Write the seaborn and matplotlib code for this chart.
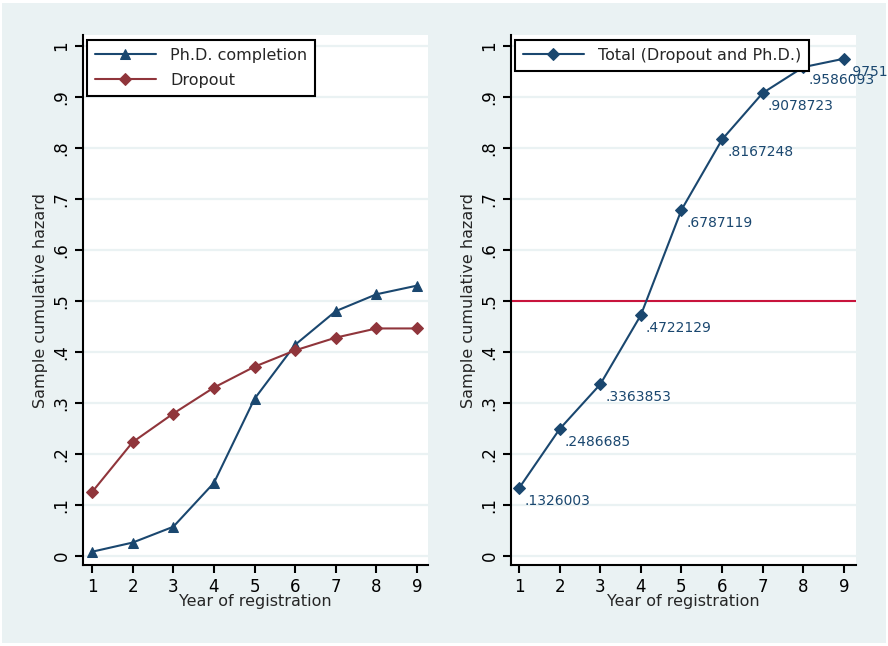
import matplotlib
matplotlib.use("Agg")
import matplotlib.pyplot as plt
import seaborn as sns
import pandas as pd
from matplotlib.patches import Rectangle

# ---- data ----
years = [1, 2, 3, 4, 5, 6, 7, 8, 9]
phd_completion = [0.008, 0.026, 0.057, 0.143, 0.308, 0.414, 0.480, 0.513, 0.530]
dropout = [0.125, 0.223, 0.279, 0.330, 0.371, 0.403, 0.428, 0.446, 0.446]
total = [0.1326003, 0.2486685, 0.3363853, 0.4722129, 0.6787119,
         0.8167248, 0.9078723, 0.9586093, 0.9751]
total_labels = [".1326003", ".2486685", ".3363853", ".4722129", ".6787119",
                ".8167248", ".9078723", ".9586093", ".9751"]
y_ticks = [0, 0.1, 0.2, 0.3, 0.4, 0.5, 0.6, 0.7, 0.8, 0.9, 1.0]
y_tick_labels = ["0", ".1", ".2", ".3", ".4", ".5", ".6", ".7", ".8", ".9", "1"]
ref_line = 0.5

NAVY = "#1a476f"
MAROON = "#90353b"
RED = "#c8143c"
BG = "#eaf2f3"

sns.set_style("white")
plt.rcParams["font.family"] = ["DejaVu Sans"]

W, H = 888, 646
fig = plt.figure(figsize=(W / 100, H / 100), dpi=100, facecolor="white")
fig.patches.append(Rectangle((2 / W, 3 / H), 884 / W, 640 / H, transform=fig.transFigure,
                             facecolor=BG, edgecolor="none", zorder=-10))

axL = fig.add_axes([83 / W, (646 - 565) / H, 345 / W, 530 / H])
axR = fig.add_axes([511 / W, (646 - 565) / H, 345 / W, 530 / H])

df = pd.DataFrame({"year": years, "phd": phd_completion, "drop": dropout, "total": total})


def style(ax, xlim):
    ax.set_facecolor("white")
    ax.set_xlim(*xlim)
    ax.set_ylim(-0.018, 1.0216)
    ax.set_yticks(y_ticks)
    ax.set_yticklabels(y_tick_labels, rotation=90, va="center")
    ax.set_xticks(years)
    ax.set_xticklabels([str(y) for y in years])
    for y in y_ticks:
        ax.axhline(y, color=BG, lw=1.6, zorder=0)
    for s in ["top", "right"]:
        ax.spines[s].set_visible(False)
    for s in ["left", "bottom"]:
        ax.spines[s].set_color("black")
        ax.spines[s].set_linewidth(1.5)
    ax.tick_params(axis="both", direction="out", length=6, width=1.5, color="black",
                   labelsize=12, labelcolor="black", pad=3, left=True, bottom=True)
    ax.set_xlabel("Year of registration", fontsize=11.5, labelpad=-1)
    ax.set_ylabel("Sample cumulative hazard", fontsize=11.5, labelpad=3)


def style_legend(leg):
    fr = leg.get_frame()
    fr.set_edgecolor("black")
    fr.set_linewidth(1.5)
    fr.set_alpha(1)


# Left panel
sns.lineplot(data=df, x="year", y="phd", ax=axL, color=NAVY, marker="^", markersize=7.5,
             markeredgecolor=NAVY, linewidth=1.5, label="Ph.D. completion", zorder=3)
sns.lineplot(data=df, x="year", y="drop", ax=axL, color=MAROON, marker="D", markersize=6.5,
             markeredgecolor=MAROON, linewidth=1.5, label="Dropout", zorder=3)
style(axL, (0.778, 9.27))
legL = axL.legend(loc="upper left", bbox_to_anchor=(4 / 345, 1 - 5 / 530), fontsize=11.5,
                  frameon=True, fancybox=False, handlelength=3.8, handletextpad=0.9,
                  borderpad=0.5, labelspacing=0.6, borderaxespad=0)
style_legend(legL)

# Right panel
sns.lineplot(data=df, x="year", y="total", ax=axR, color=NAVY, marker="D", markersize=6.5,
             markeredgecolor=NAVY, linewidth=1.5, label="Total (Dropout and Ph.D.)", zorder=3)
axR.axhline(ref_line, color=RED, lw=1.5, zorder=2)
style(axR, (0.803, 9.296))
for x, y, lab in zip(years, total, total_labels):
    axR.annotate(lab, (x, y), xytext=(5, -6), textcoords="offset pixels",
                 ha="left", va="top", fontsize=10, color=NAVY, annotation_clip=False, zorder=4)
legR = axR.legend(loc="upper left", bbox_to_anchor=(4 / 345, 1 - 5 / 530), fontsize=11.5,
                  frameon=True, fancybox=False, handlelength=3.8, handletextpad=0.9,
                  borderpad=0.5, borderaxespad=0)
style_legend(legR)

fig.savefig("out.png", dpi=100, facecolor="white")
